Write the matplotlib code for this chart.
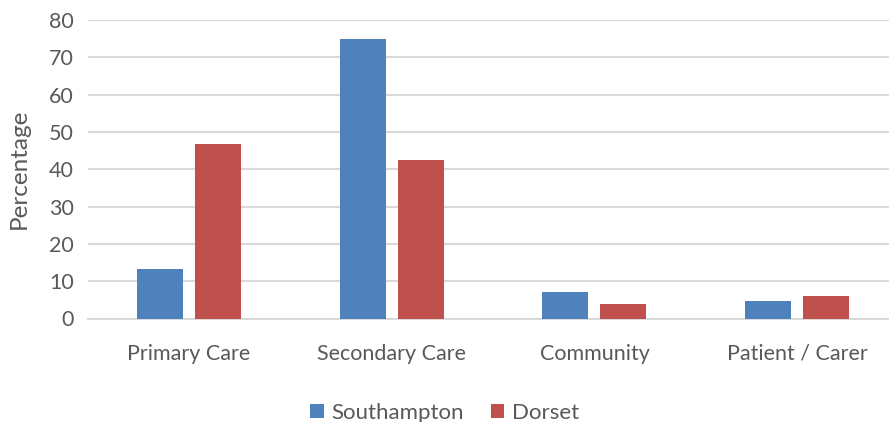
import matplotlib
matplotlib.use("Agg")
import matplotlib.pyplot as plt
import numpy as np

categories = ["Primary Care", "Secondary Care", "Community", "Patient / Carer"]
southampton = [13.2, 74.9, 7.0, 4.7]
dorset = [46.8, 42.5, 3.9, 5.9]
yticks = [0, 10, 20, 30, 40, 50, 60, 70, 80]

plt.rcParams["font.family"] = ["Lato", "DejaVu Sans"]
text_color = "#595959"
grid_color = "#d9d9d9"

fig = plt.figure(figsize=(8.89, 4.22), dpi=100)
# plot area runs slightly past the right edge of the canvas
ax = fig.add_axes([87.7 / 889, 1 - 318.5 / 422, 810.8 / 889, (318.5 - 20) / 422])

x = np.arange(len(categories))
width = 0.227
offset = 0.143
ax.bar(x - offset, southampton, width, color="#4f81bd", label="Southampton", zorder=3)
ax.bar(x + offset, dorset, width, color="#c0504d", label="Dorset", zorder=3)

ax.set_xlim(-0.5, len(categories) - 0.5)
ax.set_ylim(0, 80)
ax.set_yticks(yticks)
ax.set_xticks(x)
ax.set_xticklabels(categories)
ax.yaxis.grid(True, color=grid_color, linewidth=1.5, zorder=0)
ax.set_axisbelow(True)
for side in ["top", "right", "left"]:
    ax.spines[side].set_visible(False)
ax.spines["bottom"].set_color(grid_color)
ax.spines["bottom"].set_linewidth(1.5)
ax.tick_params(axis="both", length=0, labelsize=15.5, colors=text_color)
ax.tick_params(axis="x", pad=18)
ax.tick_params(axis="y", pad=10)
ax.set_ylabel("Percentage", fontsize=17.5, color=text_color, labelpad=14)

leg = fig.legend(loc="lower center", bbox_to_anchor=(0.5, -0.05), ncol=2, frameon=False,
                 fontsize=16, handlelength=0.6, handleheight=0.6, handletextpad=0.35,
                 columnspacing=1.2)
for t in leg.get_texts():
    t.set_color(text_color)

fig.savefig("out.png", dpi=100)
